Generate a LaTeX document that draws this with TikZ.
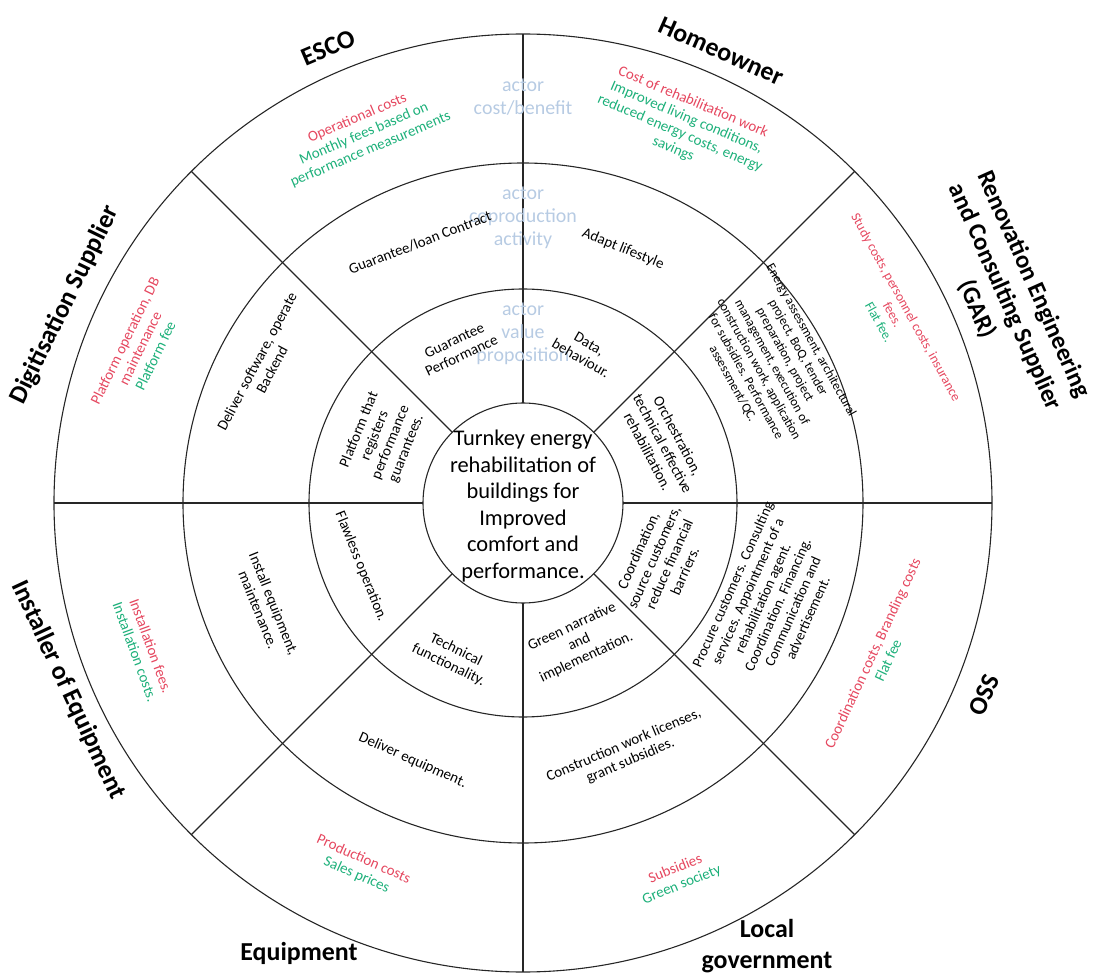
\documentclass[tikz,border=0pt]{standalone}
\usepackage{fontspec}
\setmainfont{Carlito}
\definecolor{costred}{HTML}{E5475F}
\definecolor{gaingreen}{HTML}{1DB07A}
\definecolor{actorblue}{HTML}{B7CBE3}
\begin{document}
\begin{tikzpicture}[x=1bp,y=1bp,
  ringline/.style={draw=black!85, line width=1.1bp},
  actorlabel/.style={font=\fontsize{26}{31}\selectfont\bfseries, align=center, inner sep=0pt},
  placeholder/.style={text=actorblue, font=\fontsize{20}{23}\selectfont, align=center, inner sep=0pt},
  activity/.style={font=\fontsize{15}{17}\selectfont, align=center, inner sep=0pt},
  money/.style={font=\fontsize{15}{17}\selectfont, align=center, inner sep=0pt},
  core/.style={font=\fontsize{22.5}{26.7}\selectfont, align=center, inner sep=0pt}
]
\useasboundingbox (-523,-474) rectangle (577,503);

% rings and sector borders
\foreach \a in {0,45,...,315} \draw[ringline] (\a:100) -- (\a:469);
\draw[ringline] (0,0) circle (469);
\draw[ringline] (0,0) circle (340);
\draw[ringline] (0,0) circle (214);
\draw[ringline] (0,0) circle (100);

% centre
\node[core] (centre) at (0,-3) {Turnkey energy\\rehabilitation of\\buildings for\\Improved\\comfort and\\performance.};

% generic ring captions on the vertical axis
\node[placeholder] (capout) at (0,406) {actor\\cost/benefit};
\node[placeholder] (capmid) at (0,285) {actor\\coproduction\\activity};
\node[placeholder] (capin) at (0,169) {actor\\value\\proposition};

% actors
\node[actorlabel, rotate=23] (esco) at (-195,455) {ESCO};
\node[actorlabel, rotate=-24] (home) at (198,452) {Homeowner};
\node[actorlabel, rotate=-66, font=\fontsize{25}{31}\selectfont\bfseries] (gar) at (482,206) {Renovation Engineering\\and Consulting Supplier\\(GAR)};
\node[actorlabel, rotate=67] (oss) at (461,-192) {OSS};
\node[actorlabel] (localgov) at (244,-443) {Local\\government};
\node[actorlabel] (equip) at (-224,-450) {Equipment};
\node[actorlabel, rotate=-65] (installer) at (-455,-187) {Installer of Equipment};
\node[actorlabel, rotate=64] (digi) at (-458,198) {Digitisation Supplier};

% ESCO
\node[money, rotate=23] (escoo) at (113.3:402) {\textcolor{costred}{Operational costs}\\\textcolor{gaingreen}{Monthly fees based on}\\\textcolor{gaingreen}{performance measurements}};
\node[activity, rotate=21] (escom) at (111.6:280) {Guarantee/loan Contract};
\node[activity, rotate=25] (escoi) at (112.8:168) {Guarantee\\Performance};

% Homeowner
\node[money, rotate=-23] (homeo) at (67:410) {\textcolor{costred}{Cost of rehabilitation work}\\\textcolor{gaingreen}{Improved living conditions,}\\\textcolor{gaingreen}{reduced energy costs, energy}\\\textcolor{gaingreen}{savings}};
\node[activity, rotate=-22] (homem) at (68.5:273) {Adapt lifestyle};
\node[activity, rotate=-30] (homei) at (67.8:164) {Data,\\behaviour.};

% Renovation Engineering and Consulting Supplier
\node[money, rotate=-61, font=\fontsize{13.5}{15.5}\selectfont] (garo) at (27:415) {\textcolor{costred}{Study costs, personnel costs, insurance}\\\textcolor{costred}{fees.}\\\textcolor{gaingreen}{Flat fee.}};
\node[activity, rotate=-61, font=\fontsize{13}{15}\selectfont] (garm) at (29.5:286) {Energy assessment, architectural\\project, BoQ, tender\\preparation, project\\management, execution of\\construction work, application\\for subsidies. Performance\\assessment/QC.};
\node[activity, rotate=-62] (gari) at (23:152) {Orchestration,\\technical effective\\rehabilitation.};

% OSS
\node[money, rotate=65] (osso) at (-23.3:389) {\textcolor{costred}{Coordination costs, Branding costs}\\\textcolor{gaingreen}{Flat fee}};
\node[activity, rotate=66, font=\fontsize{14.5}{16.5}\selectfont] (ossm) at (-21.7:266) {Procure customers. Consulting\\services. Appointment of a\\rehabilitation agent.\\Coordination. Financing.\\Communication and\\advertisement.};
\node[activity, rotate=66] (ossi) at (-22.6:150) {Coordination,\\source customers,\\reduce financial\\barriers.};

% Local government
\node[money, rotate=22] (locgo) at (-67.4:405) {\textcolor{costred}{Subsidies}\\\textcolor{gaingreen}{Green society}};
\node[activity, rotate=23] (locgm) at (-67.4:271) {Construction work licenses,\\grant subsidies.};
\node[activity, rotate=25] (locgi) at (-68:150) {Green narrative\\and\\implementation.};

% Equipment
\node[money, rotate=-24] (equo) at (245.9:399) {\textcolor{costred}{Production costs}\\\textcolor{gaingreen}{Sales prices}};
\node[activity, rotate=-24] (equm) at (246.8:280) {Deliver equipment.};
\node[activity, rotate=-26] (equi) at (245.4:170) {Technical\\functionality.};

% Installer of Equipment
\node[money, rotate=-70] (insto) at (201:407) {\textcolor{costred}{Installation fees.}\\\textcolor{gaingreen}{Installation costs.}};
\node[activity, rotate=-68] (instm) at (202:277) {Install equipment,\\maintenance.};
\node[activity, rotate=-68] (insti) at (201.4:174) {Flawless operation.};

% Digitisation Supplier
\node[money, rotate=64] (digo) at (158:413) {\textcolor{costred}{Platform operation, DB}\\\textcolor{costred}{maintenance}\\\textcolor{gaingreen}{Platform fee}};
\node[activity, rotate=62] (digm) at (152:293) {Deliver software, operate\\Backend};
\node[activity, rotate=68] (digi2) at (155.5:154) {Platform that\\registers\\performance\\guarantees.};
\end{tikzpicture}
\end{document}
